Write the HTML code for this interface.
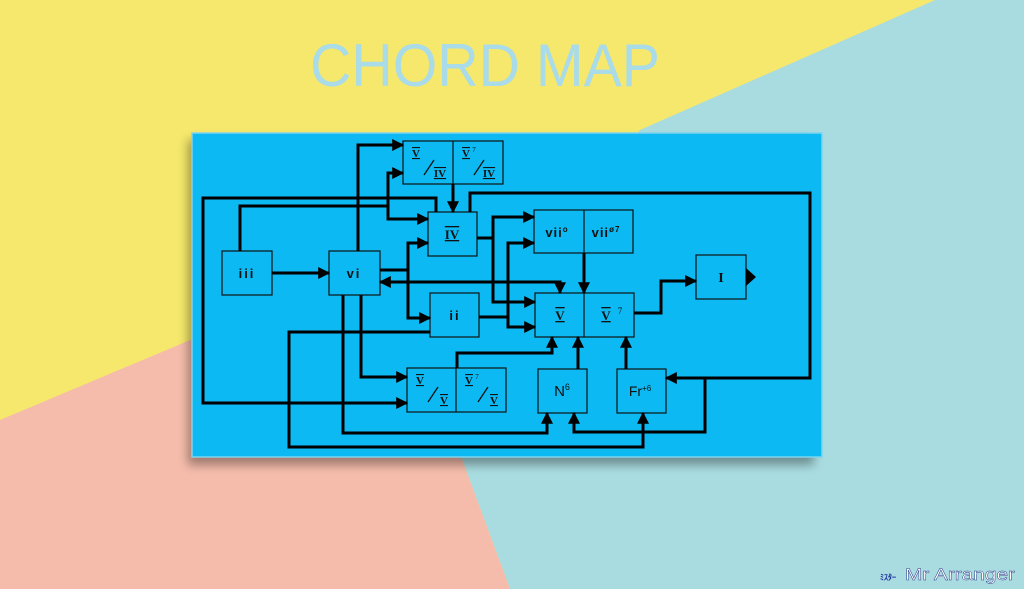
<!DOCTYPE html>
<html><head><meta charset="utf-8"><style>
html,body{margin:0;padding:0;width:1024px;height:589px;overflow:hidden;background:#f5e86c}
svg{display:block}
</style></head><body>
<svg width="1024" height="589" viewBox="0 0 1024 589" xmlns="http://www.w3.org/2000/svg" font-family="Liberation Sans, sans-serif">
<defs>
<marker id="a" viewBox="0 0 10 10" refX="9" refY="5" markerWidth="4" markerHeight="4" orient="auto" markerUnits="strokeWidth"><path d="M0,0L10,5L0,10z" fill="#000"/></marker>
<filter id="sh" x="-10%" y="-10%" width="130%" height="130%"><feGaussianBlur stdDeviation="5"/></filter>
</defs>
<rect width="1024" height="589" fill="#f5e86c"/>
<polygon points="935,0 1024,0 1024,589 510,589 440,400 640,130" fill="#a9dce0"/>
<polygon points="0,420 195,338 440,400 510,589 0,589" fill="#f5bcab"/>
<text x="310" y="86" font-size="60" fill="#a9dbe8" textLength="350" lengthAdjust="spacingAndGlyphs">CHORD MAP</text>
<rect x="188" y="140" width="626" height="325" fill="#000" opacity="0.35" filter="url(#sh)"/>
<rect x="192" y="133" width="630" height="324" fill="#0cb9f2" stroke="#7fd4ee" stroke-width="1.5"/>
<g fill="none" stroke="#111" stroke-width="1.2">
<rect x="222" y="251" width="50" height="44"/>
<rect x="329" y="251" width="51" height="44"/>
<rect x="403" y="141" width="100" height="43"/><line x1="453" y1="141" x2="453" y2="184"/>
<rect x="428" y="212" width="49" height="44"/>
<rect x="430" y="293" width="49" height="44"/>
<rect x="407" y="368" width="99" height="44"/><line x1="456" y1="368" x2="456" y2="412"/>
<rect x="534" y="210" width="99" height="43"/><line x1="584" y1="210" x2="584" y2="253"/>
<rect x="535" y="293" width="99" height="44"/><line x1="584" y1="293" x2="584" y2="337"/>
<rect x="696" y="255" width="50" height="44"/>
<rect x="538" y="369" width="49" height="44"/>
<rect x="617" y="369" width="49" height="44"/>
</g>
<polygon points="746,268 756,277 746,286" fill="#000"/>
<g fill="none" stroke="#000" stroke-width="3" stroke-linejoin="miter" marker-end="url(#a)">
<path d="M272,273H329"/>
<path d="M240,251V206H388V173H403"/>
<path d="M388,206V219H428"/>
<path d="M436,212V198H203V403H407"/>
<path d="M358,251V145H403"/>
<path d="M453,184V212"/>
<path d="M380,270H408V243H428"/>
<path d="M408,270V318H430"/>
<path d="M560,282H380"/>
<path d="M420,282H560V293"/>
<path d="M477,238H493V217H534"/>
<path d="M493,238V302H535"/>
<path d="M479,317H508V243H534"/>
<path d="M508,317V327H535"/>
<path d="M470,212V193H810V378H666"/>
<path d="M584,253V293"/>
<path d="M634,313H661V281H696"/>
<path d="M578,369V337"/>
<path d="M626,369V337"/>
<path d="M457,368V353H552V337"/>
<path d="M343,295V433H547V413"/>
<path d="M361,295V377H407"/>
<path d="M430,332H289V447H643V413"/>
<path d="M705,378V432H574V413"/>
</g>
<g font-size="13" font-weight="bold" fill="#111" text-anchor="middle" font-family="Liberation Serif, serif">
<text x="247" y="278" font-family="Liberation Sans" font-weight="bold" letter-spacing="2">iii</text>
<text x="354" y="278" font-family="Liberation Sans" font-weight="bold" letter-spacing="2">vi</text>
<text x="452" y="239" text-decoration="underline overline">IV</text>
<text x="455" y="320" font-family="Liberation Sans" font-weight="bold" letter-spacing="2">ii</text>
<text x="721" y="282" font-size="14">I</text>
<text x="560" y="320" text-decoration="underline overline">V</text>
<text x="606" y="320" text-decoration="underline overline">V</text><text x="620" y="314" font-size="9" font-weight="normal">7</text>
<text x="562" y="396" font-family="Liberation Sans" font-weight="normal" font-size="15">N<tspan font-size="9" dy="-6">6</tspan></text>
<text x="640" y="396" font-family="Liberation Sans" font-weight="normal" font-size="14">Fr<tspan font-size="8" dy="-5">+6</tspan></text>
<text x="557" y="237" font-family="Liberation Sans" font-weight="bold" letter-spacing="1">vii<tspan font-size="8" dy="-5">o</tspan></text>
<text x="606" y="237" font-family="Liberation Sans" font-weight="bold" letter-spacing="1">vii<tspan font-size="8" dy="-5">ø7</tspan></text>
<g font-size="11">
<text x="416" y="157" text-decoration="underline overline">V</text><text x="440" y="177" text-decoration="underline overline">IV</text>
<text x="466" y="157" text-decoration="underline overline">V</text><text x="489" y="177" text-decoration="underline overline">IV</text>
<text x="420" y="384" text-decoration="underline overline">V</text><text x="444" y="404" text-decoration="underline overline">V</text>
<text x="469" y="384" text-decoration="underline overline">V</text><text x="494" y="404" text-decoration="underline overline">V</text>
<text x="474" y="152" font-size="7" font-weight="normal">7</text><text x="477" y="379" font-size="7" font-weight="normal">7</text>
</g>
</g>
<g stroke="#111" stroke-width="1.3">
<line x1="424" y1="175" x2="434" y2="160"/><line x1="474" y1="175" x2="484" y2="160"/>
<line x1="428" y1="402" x2="438" y2="387"/><line x1="478" y1="402" x2="488" y2="387"/>
</g>
<text x="880" y="580" font-size="8" fill="#2035a0" font-weight="bold">ﾐｽﾀｰ</text>
<text x="905" y="580" font-size="17" fill="#ffffff" stroke="#203080" stroke-width="0.4" textLength="110" lengthAdjust="spacingAndGlyphs">Mr Arranger</text>
</svg>
</body></html>
